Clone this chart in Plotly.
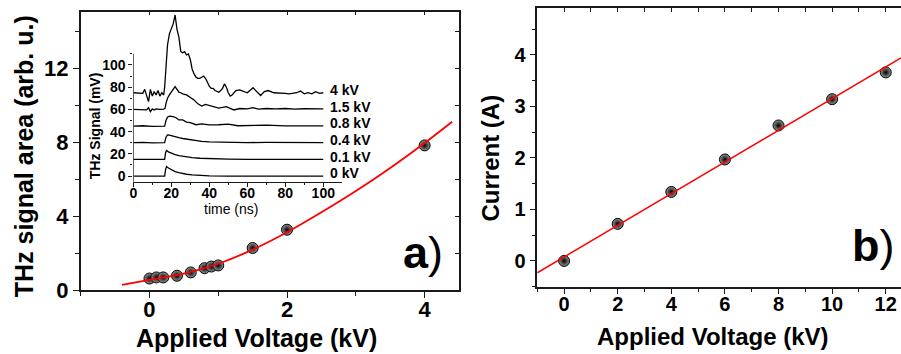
import plotly.graph_objects as go

FONT = "Liberation Sans, Arial, sans-serif"
W, H = 901, 354

# ---------------- data: panel a ----------------
volt_a = [0.0, 0.1, 0.2, 0.4, 0.6, 0.8, 0.9, 1.0, 1.5, 2.0, 4.0]
area_a = [0.62, 0.68, 0.68, 0.77, 0.95, 1.18, 1.27, 1.33, 2.27, 3.26, 7.82]
fit_a_x = [-0.4, 0.0, 0.5, 1.0, 1.5, 2.0, 2.5, 3.0, 3.5, 4.0, 4.4]
fit_a_y = [0.28, 0.55, 0.88, 1.42, 2.18, 3.12, 4.20, 5.35, 6.60, 7.95, 9.10]

# ---------------- data: panel b ----------------
volt_b = [0, 2, 4, 6, 8, 10, 12]
curr_b = [0.0, 0.72, 1.34, 1.97, 2.63, 3.14, 3.66]
fit_b_x = [-1.0, 12.57]
fit_b_y = [-0.23, 3.94]

# ---------------- data: inset traces (mV, as displayed) ----------------
t_00 = [0, 10, 16.5, 17.0, 17.5, 18.5, 20, 22, 24, 26, 28, 31, 35, 40, 50, 60, 70, 80, 90, 100]
s_00 = [0, 0, 0, 6, 8.5, 7.2, 5.5, 4, 3, 2.2, 1.6, 1.0, 0.5, 0.2, 0, 0, 0, 0, 0, 0]
t_01 = [0, 10, 16.5, 17.0, 17.5, 18.5, 20, 22, 24, 26, 28, 31, 35, 40, 50, 60, 70, 80, 90, 100]
s_01 = [15, 15, 15, 21, 23, 21.8, 20.5, 19.2, 18.3, 17.6, 17.0, 16.5, 16.0, 15.6, 15.2, 15, 15, 15, 15, 15]
t_04 = [0, 5, 10, 15, 16.5, 17.2, 18, 19, 20, 21, 22.5, 24, 26, 28, 30, 33, 36, 40, 45, 50, 55, 60, 70, 80, 90, 100]
s_04 = [30, 30.3, 29.8, 30.2, 30, 35, 37, 36.8, 36.2, 35.6, 34.8, 34.5, 33.8, 33.2, 32.6, 31.6, 31.2, 30.8,
        30.6, 30.3, 30.2, 30.1, 30.3, 30, 30.2, 30]
t_08 = [0, 5, 10, 15, 16.5, 17.2, 18, 19, 20, 21, 22.5, 24, 26, 28, 30, 33, 36, 40, 45, 50, 55, 60, 70, 80, 90, 100]
s_08 = [45, 45.3, 44.8, 45.2, 45, 50, 53, 54, 54, 53.5, 52.5, 50.5, 50.5, 48.5, 48, 46.2, 47, 46, 46.2,
        46.8, 45.3, 45.5, 45.8, 45.2, 45.5, 45.2]
t_15 = [0, 4, 7, 8, 9, 10, 11, 12, 14, 16, 16.7, 17.3, 18, 19, 20, 21, 22, 23, 24, 25, 26, 28, 30, 32, 34,
        36, 38, 40, 42, 45, 47, 49, 51, 53, 56, 60, 63, 66, 70, 75, 80, 85, 90, 95, 100]
s_15 = [60, 60, 59.5, 61.5, 58, 60.5, 59.5, 60.5, 60, 60.3, 61, 66, 70, 73, 75, 78, 80.5, 78, 75.5, 75, 74,
        73, 71, 68.5, 65, 63, 64.5, 63.5, 62, 61.2, 61.8, 62.5, 61, 59.5, 60.8, 60.5, 61.5, 60.2, 60.8,
        60.4, 60.8, 60.3, 60.6, 60.2, 60.4]
t_40 = [0, 3, 5, 6, 7, 8, 9, 10, 11, 12, 13, 14, 15, 16, 16.5, 17, 17.5, 18, 19, 20, 21, 22, 23, 24, 25,
        26, 27, 28, 29, 30, 31, 32, 33, 34, 35, 36, 37, 38, 39, 40, 41, 42, 43, 44, 45, 46, 47, 48, 49,
        50, 51, 52, 54, 56, 58, 60, 62, 63, 65, 67, 69, 71, 74, 77, 80, 82, 84, 86, 88, 90, 92, 94, 96,
        98, 100]
s_40 = [75, 75, 74.5, 78, 72, 67, 78, 72, 76, 73, 77, 72, 75, 73, 80, 95, 108, 118, 128, 132, 137, 145,
        132, 125, 112, 111, 112, 109, 110, 105, 96, 92, 89, 88, 88, 89, 90, 88, 84, 81, 79, 79, 77, 76,
        75.5, 77, 79, 83, 80, 75, 72, 73, 77, 77.5, 76, 75, 78, 79.5, 76, 72.5, 76, 77, 75, 75, 74.5, 74,
        74.5, 75, 76.5, 74, 75, 74, 76, 74.5, 75]
trace_t = [t_00, t_01, t_04, t_08, t_15, t_40]
trace_s = [s_00, s_01, s_04, s_08, s_15, s_40]
trace_labels = ["0 kV", "0.1 kV", "0.4 kV", "0.8 kV", "1.5 kV", "4 kV"]
trace_offsets = [0, 15, 30, 45, 60, 75]


def px(x):
    return x / W


def py(y):
    return 1 - y / H


AX = "#1a1a1a"
ball = dict(size=11, color="#959595", gradient=dict(type="radial", color="#000000"),
            line=dict(width=1, color="#000000"))

fig = go.Figure()
# panel a
fig.add_trace(go.Scatter(x=volt_a, y=area_a, mode="markers", xaxis="x", yaxis="y", marker=ball))
fig.add_trace(go.Scatter(x=fit_a_x, y=fit_a_y, mode="lines", xaxis="x", yaxis="y",
                         line=dict(color="#ff0000", width=1.8, shape="spline")))
fig.add_trace(go.Scatter(x=[None], y=[None], xaxis="x3", yaxis="y3"))
# inset
for tt, ss in zip(trace_t, trace_s):
    fig.add_trace(go.Scatter(x=tt, y=ss, mode="lines", xaxis="x4", yaxis="y4",
                             line=dict(color="black", width=1.3)))
# panel b
fig.add_trace(go.Scatter(x=volt_b, y=curr_b, mode="markers", xaxis="x2", yaxis="y2", marker=ball))
fig.add_trace(go.Scatter(x=fit_b_x, y=fit_b_y, mode="lines", xaxis="x2", yaxis="y2",
                         line=dict(color="#ff0000", width=1.5)))
fig.add_trace(go.Scatter(x=[None], y=[None], xaxis="x5", yaxis="y5"))

common = dict(showgrid=False, zeroline=False, showline=True, linecolor=AX, linewidth=1.5, automargin=False,
              ticks="outside", tickcolor=AX, tickwidth=1.3, ticklen=6)
mirror = dict(showgrid=False, zeroline=False, showline=True, linecolor=AX, linewidth=1.5, automargin=False,
              ticks="inside", tickcolor=AX, tickwidth=1.2, ticklen=4, showticklabels=False)
tf_a = dict(family=FONT, size=22, color="black", weight="bold")
tf_b = dict(family=FONT, size=20, color="black", weight="bold")
tf_i = dict(family=FONT, size=14, color="black", weight="bold")

fig.update_layout(
    template="none",
    width=W, height=H, margin=dict(l=0, r=0, t=0, b=0, pad=0), autosize=False,
    paper_bgcolor="white", plot_bgcolor="rgba(0,0,0,0)", showlegend=False, hovermode=False,
    xaxis=dict(domain=[px(80.7), px(459)], range=[-1, 4.5], anchor="y", tickvals=[0, 2, 4],
               ticklabelstandoff=-7,
               minor=dict(dtick=1, tick0=-1, ticks="outside", ticklen=4, tickcolor=AX, tickwidth=1.2),
               tickfont=tf_a, **common),
    yaxis=dict(domain=[py(290), py(11.7)], range=[0, 15.05], anchor="x", tickvals=[0, 4, 8, 12],
               minor=dict(dtick=2, tick0=0, ticks="outside", ticklen=4, tickcolor=AX, tickwidth=1.2),
               tickfont=tf_a, **common),
    xaxis3=dict(overlaying="x", side="top", anchor="y3", range=[-1, 4.5], dtick=1, tick0=-1, **mirror),
    yaxis3=dict(overlaying="y", side="right", anchor="x3", range=[0, 15.05], dtick=2, tick0=0, **mirror),
    xaxis4=dict(domain=[px(133.3), px(341.7)], range=[0, 109.7], anchor="y4",
                tickvals=[0, 20, 40, 60, 80, 100], automargin=False, ticklabelstandoff=-6,
                minor=dict(dtick=10, tick0=0, ticks="outside", ticklen=2.5, tickcolor=AX, tickwidth=1),
                tickfont=tf_i, showgrid=False, zeroline=False, showline=True, linecolor=AX, linewidth=1.3,
                ticks="outside", tickcolor=AX, tickwidth=1.1, ticklen=4),
    yaxis4=dict(domain=[py(181.7), py(10)], range=[-5.1, 149.5], anchor="x4",
                tickvals=[0, 20, 40, 60, 80, 100], automargin=False,
                minor=dict(tickvals=[10, 30, 50, 70, 90, 110], ticks="outside", ticklen=2.5, tickcolor=AX,
                           tickwidth=1),
                tickfont=tf_i, showgrid=False, zeroline=False, showline=False,
                ticks="outside", tickcolor=AX, tickwidth=1.1, ticklen=4),
    xaxis2=dict(domain=[px(537.3), 1.0], range=[-1, 12.57], anchor="y2", tickvals=[0, 2, 4, 6, 8, 10, 12],
                ticklabelstandoff=-7,
                minor=dict(dtick=1, tick0=-1, ticks="outside", ticklen=4, tickcolor=AX, tickwidth=1.2),
                tickfont=tf_b, **common),
    yaxis2=dict(domain=[py(286.7), py(8)], range=[-0.5, 4.91], anchor="x2", tickvals=[0, 1, 2, 3, 4],
                minor=dict(dtick=0.5, tick0=-0.5, ticks="outside", ticklen=4, tickcolor=AX, tickwidth=1.2),
                tickfont=tf_b, **common),
    xaxis5=dict(overlaying="x2", side="top", anchor="y5", range=[-1, 12.57], dtick=1, tick0=-1, **mirror),
    yaxis5=dict(overlaying="y2", side="right", anchor="x5", range=[-0.5, 4.91], showgrid=False,
                automargin=False, zeroline=False, showline=False, ticks="", showticklabels=False),
)

fig.add_shape(type="line", xref="x4", yref="y4", x0=0, x1=0, y0=-5.1, y1=110,
              line=dict(color=AX, width=1.3))

ann = []


def text(x, y, s, size, bold=True, angle=0, xanchor="center", yanchor="middle", xref="paper", yref="paper"):
    ann.append(dict(x=x, y=y, xref=xref, yref=yref, text=s, showarrow=False, textangle=angle,
                    xanchor=xanchor, yanchor=yanchor,
                    font=dict(family=FONT, size=size, color="black", weight="bold" if bold else "normal")))


text(px(256.7), py(338), "Applied Voltage (kV)", 25)
text(px(24.2), py(156), "THz signal area (arb. u.)", 25, angle=-90)
text(px(713.3), py(336.7), "Applied Voltage (kV)", 24)
text(px(490), py(157.5), "Current (A)", 24, angle=-90)
text(px(230.8), py(209), "time (ns)", 14, bold=False)
text(px(94.7), py(125.5), "THz Signal (mV)", 14, angle=-90)
text(px(445), py(252.5), "<b>a</b>)", 45, bold=False, xanchor="right")
text(px(896.7), py(245.8), "<b>b</b>)", 45, bold=False, xanchor="right")
for lab, off in zip(trace_labels, trace_offsets):
    text(102.3, off + 2.5, lab, 14, xanchor="left", xref="x4", yref="y4")

fig.update_layout(annotations=ann)
fig.write_html("out.html")
